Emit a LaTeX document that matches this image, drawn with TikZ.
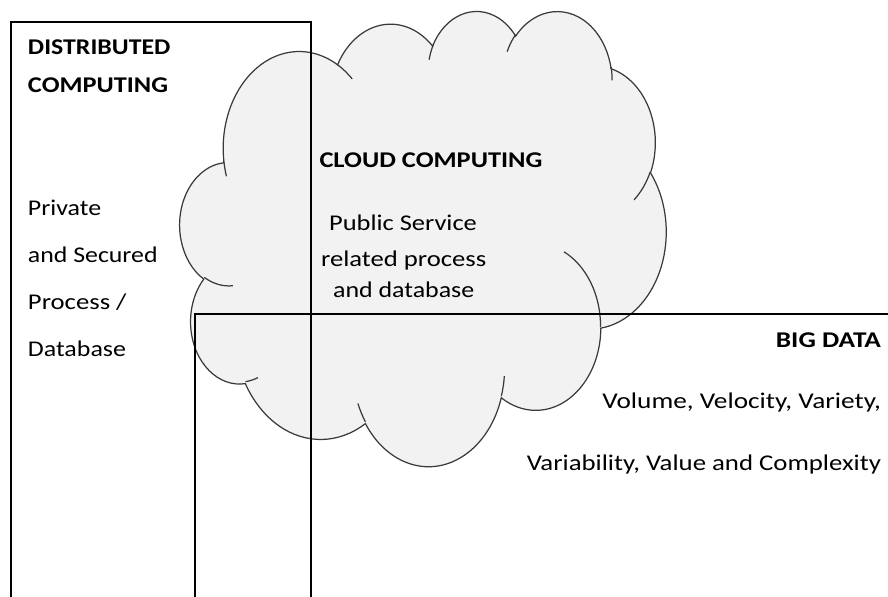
\documentclass[tikz,border=0pt]{standalone}
\usepackage{graphicx}
\usepackage{fontspec}
\setmainfont{Carlito}[FakeStretch=1.13]
% horizontal widening of one line of text
\newcommand\hwiden[2]{\scalebox{#1}[1]{#2}}
\begin{document}
\begin{tikzpicture}[x=0.02cm, y=-0.02cm,
  txt/.style={inner sep=0pt, outer sep=0pt, font=\fontsize{12.8pt}{15pt}\selectfont},
  head/.style={txt, font=\fontsize{12.8pt}{15pt}\selectfont\bfseries},
  boxline/.style={draw=black, line width=0.8pt},
  cloudbody/.style={fill=cloudgray, draw=cloudedge, line width=0.7pt},
  cloudline/.style={draw=cloudedge, line width=0.7pt}]
\definecolor{cloudgray}{HTML}{F2F2F2}
\definecolor{cloudedge}{HTML}{3A3A3A}
\useasboundingbox (0,0) rectangle (888,597);

% cloud outline (preset cloud geometry, coordinates in hundredths of 43200 units)
\begin{scope}[shift={(180,10)}, x=0.0225cm, y=-0.021065cm]
  \path[cloudbody] (39.00,143.70)
    \foreach \rx/\ry/\st/\sw
      [evaluate=\st as \ta using {atan2(\rx*sin(\st),\ry*cos(\st))},
       evaluate=\st as \tb using {atan2(\rx*sin(\st+\sw),\ry*cos(\st+\sw))},
       evaluate=\st as \dd using {mod(\tb-\ta+720,360)}]
    in {67.53/91.90/-190.4875/123.7805,
        53.33/72.67/-144.1024/89.9452,
        43.65/59.45/-145.8079/99.7230,
        48.57/65.95/-130.9861/117.2417,
        53.33/72.73/-78.7089/109.0269,
        67.75/92.20/-46.2673/130.2690,
        57.85/78.67/0.6250/114.0333,
        67.52/92.15/22.4516/115.1726,
        77.20/105.43/66.2426/75.7110,
        43.60/59.18/-274.9421/146.7356,
        43.45/59.45/-246.8285/152.5200}
    { arc[start angle=\ta, delta angle=\dd, x radius=\rx, y radius=\ry] } -- cycle;
  % inner fold arcs
  \path[cloudline]
    \foreach \px/\py/\rx/\ry/\st/\sw
      [evaluate=\st as \ta using {atan2(\rx*sin(\st),\ry*cos(\st))},
       evaluate=\st as \tb using {atan2(\rx*sin(\st+\sw),\ry*cos(\st+\sw))},
       evaluate=\st as \dd using {mod(\tb-\ta+720,360)}]
    in {46.93/261.77/43.45/59.45/86.7420/26.4328,
        69.28/348.99/43.60/59.18/73.6105/11.4475,
        164.78/390.90/67.52/92.15/137.6242/14.0811,
        288.27/347.51/67.52/92.15/6.4533/15.9984,
        341.29/229.54/57.85/78.67/-70.2924/70.9174,
        417.98/153.54/53.33/72.73/30.3180/27.7515,
        383.24/54.26/48.57/65.95/-13.7443/14.8589,
        290.78/39.52/48.57/65.95/-149.1815/18.1954,
        221.41/47.20/43.65/59.45/-163.4943/17.6864,
        140.00/51.92/67.53/91.90/-66.7070/12.3194,
        41.27/157.89/67.53/91.90/157.6544/11.8582}
    { (\px,\py) arc[start angle=\ta, delta angle=\dd, x radius=\rx, y radius=\ry] };
\end{scope}

% open-bottomed boxes
\coordinate (dbl) at (11,597);
\coordinate (dtl) at (11,22);
\coordinate (dtr) at (311,22);
\coordinate (dbr) at (311,597);
\draw[boxline] (dbl) -- (dtl) -- (dtr) -- (dbr);
\coordinate (bbl) at (195,597);
\coordinate (btl) at (195,314);
\coordinate (btr) at (888,314);
\draw[boxline] (bbl) -- (btl) -- (btr);

% distributed computing
\node[head, anchor=base west] (dc1) at (28,55) {\hwiden{1.017}{DISTRIBUTED}};
\node[head, anchor=base west] (dc2) at (28,92.7) {\hwiden{1.037}{COMPUTING}};
\node[txt, anchor=base west] (dp1) at (28,216) {\hwiden{1.02}{Private}};
\node[txt, anchor=base west] (dp2) at (28,262.7) {\hwiden{1.016}{and Secured}};
\node[txt, anchor=base west] (dp3) at (28,309.5) {\hwiden{1.05}{Process /}};
\node[txt, anchor=base west] (dp4) at (28,356.5) {\hwiden{1.02}{Database}};

% cloud computing
\node[head, anchor=base west] (cc) at (319.5,167.3) {\hwiden{1.04}{CLOUD COMPUTING}};
\node[txt, anchor=base] (cp1) at (403,230.7) {\hwiden{1.04}{Public Service}};
\node[txt, anchor=base] (cp2) at (403.7,266.7) {\hwiden{1.05}{related process}};
\node[txt, anchor=base] (cp3) at (403.7,297.3) {\hwiden{1.02}{and database}};

% big data
\node[head, anchor=base east] (bd) at (881,347.3) {\hwiden{1.075}{BIG DATA}};
\node[txt, anchor=base east] (bd1) at (881,408.3) {\hwiden{1.073}{Volume, Velocity, Variety,}};
\node[txt, anchor=base east] (bd2) at (881,470) {\hwiden{1.054}{Variability, Value and Complexity}};
\end{tikzpicture}
\end{document}
